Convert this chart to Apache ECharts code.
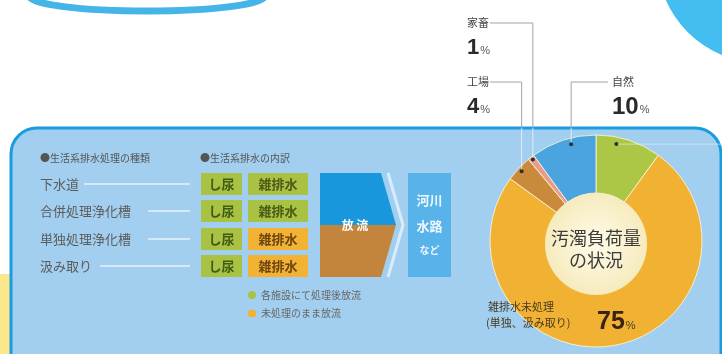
<!DOCTYPE html>
<html><head><meta charset="utf-8">
<script src="https://cdn.jsdelivr.net/npm/echarts@6/dist/echarts.min.js"></script>
<style>html,body{margin:0;padding:0;background:#fff}#c{width:722px;height:354px}</style>
</head><body><div id="c"></div>
<script>
// ---- data ----
const sliceNames = ['', '雑排水未処理', '工場', '家畜', '自然'];
const sliceValues = [10, 75, 4, 1, 10];
const sliceColors = ['#acc645', '#f1b233', '#c98a3c', '#e79d8c', '#4aa4e0'];
const rowLabels = ['下水道', '合併処理浄化槽', '単独処理浄化槽', '汲み取り'];
const rowTreated = [true, true, false, false];
const boxLabels = ['し尿', '雑排水'];
const legendLabels = ['各施設にて処理後放流', '未処理のまま放流'];
const headingLeft = '●生活系排水処理の種類';
const headingMid = '●生活系排水の内訳';
const centerLabel = ['汚濁負荷量', 'の状況'];

const FONT = '"Noto Sans CJK JP", "Noto Sans", sans-serif';
const chart = echarts.init(document.getElementById('c'), null, {renderer: 'canvas'});
const cx = 596, cy = 241;
const total = sliceValues.reduce((a, b) => a + b, 0);
let acc = 0;
const angles = sliceValues.map(v => { const s = acc; acc += v; return [s / total * 360, acc / total * 360]; });
function pt(deg, r) { const a = deg * Math.PI / 180; return [cx + r * Math.sin(a), cy - r * Math.cos(a)]; }
function dotAt(i, frac, r) { const [s, e] = angles[i]; return pt(s + (e - s) * frac, r); }

const G = [];
// background decorations
G.push({type: 'ellipse', z: 0, shape: {cx: 147, cy: -4, rx: 118, ry: 15}, style: {fill: 'none', stroke: '#45b5e8', lineWidth: 7}});
G.push({type: 'circle', z: 0, shape: {cx: 762, cy: -42, r: 105}, style: {fill: '#44bdf0'}});
G.push({type: 'rect', z: 0, shape: {x: 0, y: 274, width: 16, height: 90}, style: {fill: '#fde78c'}});
G.push({type: 'rect', z: 1, shape: {x: 11, y: 128, width: 710, height: 270, r: 26}, style: {fill: '#a2cfef', stroke: '#1b9ce0', lineWidth: 3}});

// headings
G.push({type: 'text', z: 10, x: 40, y: 158, style: {text: headingLeft, font: '10px ' + FONT, fill: '#555', textVerticalAlign: 'middle'}});
G.push({type: 'text', z: 10, x: 200, y: 158, style: {text: headingMid, font: '10px ' + FONT, fill: '#555', textVerticalAlign: 'middle'}});

// rows
const rowY = [184, 211, 239, 266];
const lineStart = [84, 148, 148, 100];
rowLabels.forEach((t, i) => {
  const y = rowY[i];
  G.push({type: 'text', z: 10, x: 40, y: y, style: {text: t, font: '13px ' + FONT, fill: '#5c5c5c', textVerticalAlign: 'middle'}});
  G.push({type: 'line', z: 5, shape: {x1: lineStart[i], y1: y, x2: 190, y2: y}, style: {stroke: 'rgba(255,255,255,0.55)', lineWidth: 2}});
  G.push({type: 'rect', z: 5, shape: {x: 201, y: y - 11, width: 41, height: 22}, style: {fill: '#a9c243'}});
  G.push({type: 'text', z: 10, x: 221.5, y: y, style: {text: boxLabels[0], font: 'bold 13px ' + FONT, fill: '#3e5c14', textAlign: 'center', textVerticalAlign: 'middle'}});
  G.push({type: 'rect', z: 5, shape: {x: 248, y: y - 11, width: 60, height: 22}, style: {fill: rowTreated[i] ? '#a9c243' : '#f2b234'}});
  G.push({type: 'text', z: 10, x: 278, y: y, style: {text: boxLabels[1], font: 'bold 13px ' + FONT, fill: rowTreated[i] ? '#4b5a16' : '#6b4612', textAlign: 'center', textVerticalAlign: 'middle'}});
});

// discharge arrow
G.push({type: 'polygon', z: 5, shape: {points: [[320, 173], [381, 173], [396, 225], [320, 225]]}, style: {fill: '#1997dc'}});
G.push({type: 'polygon', z: 5, shape: {points: [[320, 225], [396, 225], [381, 277], [320, 277]]}, style: {fill: '#c3843b'}});
G.push({type: 'polyline', z: 6, shape: {points: [[388, 173], [403, 225], [388, 277]]}, style: {stroke: 'rgba(235,245,255,0.75)', lineWidth: 3, fill: 'none'}});
G.push({type: 'text', z: 10, x: 355, y: 225, style: {text: '放 流', font: 'bold 12px ' + FONT, fill: '#fff', textAlign: 'center', textVerticalAlign: 'middle'}});
G.push({type: 'rect', z: 5, shape: {x: 408, y: 173, width: 43, height: 104}, style: {fill: '#58b3ea'}});
[['河川', 200], ['水路', 226], ['など', 250]].forEach(([t, y], k) => {
  G.push({type: 'text', z: 10, x: 429.5, y: y, style: {text: t, font: (k < 2 ? 'bold 13px ' : 'bold 10px ') + FONT, fill: '#eef7ff', textAlign: 'center', textVerticalAlign: 'middle'}});
});

// legend
G.push({type: 'circle', z: 6, shape: {cx: 252, cy: 295, r: 4}, style: {fill: '#a9c243'}});
G.push({type: 'rect', z: 6, shape: {x: 248, y: 310, width: 8, height: 7, r: 2}, style: {fill: '#f2b234'}});
G.push({type: 'text', z: 10, x: 261, y: 295, style: {text: legendLabels[0], font: '10px ' + FONT, fill: '#666', textVerticalAlign: 'middle'}});
G.push({type: 'text', z: 10, x: 261, y: 313, style: {text: legendLabels[1], font: '10px ' + FONT, fill: '#666', textVerticalAlign: 'middle'}});

// center circle and text
G.push({type: 'circle', z: 10, shape: {cx: 596, cy: 244, r: 51}, style: {fill: new echarts.graphic.RadialGradient(0.5, 0.5, 0.5, [{offset: 0, color: '#fffbe8'}, {offset: 1, color: '#f6ebbd'}])}});
G.push({type: 'text', z: 11, x: 596, y: 238, style: {text: centerLabel[0], font: '18px ' + FONT, fill: '#3c3c3c', textAlign: 'center', textVerticalAlign: 'middle'}});
G.push({type: 'text', z: 11, x: 596, y: 260, style: {text: centerLabel[1], font: '18px ' + FONT, fill: '#3c3c3c', textAlign: 'center', textVerticalAlign: 'middle'}});

// leader lines and labels
const panelTop = 128;
function leader(dot, y, xEnd) {
  G.push({type: 'polyline', z: 9, shape: {points: [[dot[0], panelTop], [dot[0], y], [xEnd, y]]}, style: {stroke: '#a3a3a3', lineWidth: 1, fill: 'none'}});
  G.push({type: 'line', z: 9, shape: {x1: dot[0], y1: panelTop, x2: dot[0], y2: dot[1]}, style: {stroke: 'rgba(235,242,250,0.85)', lineWidth: 1}});
  G.push({type: 'circle', z: 11, shape: {cx: dot[0], cy: dot[1], r: 2}, style: {fill: '#2e2e2e'}});
}
const dPink = dotAt(3, 0.5, 103), dBrown = dotAt(2, 0.5, 102), dBlue = dotAt(4, 0.6, 100), dGreen = dotAt(0, 0.33, 99);
leader(dPink, 23, 490);
leader(dBrown, 82, 490);
leader(dBlue, 82, 608);
G.push({type: 'line', z: 9, shape: {x1: dGreen[0], y1: dGreen[1], x2: 722, y2: dGreen[1]}, style: {stroke: 'rgba(235,242,250,0.6)', lineWidth: 1}});
G.push({type: 'circle', z: 11, shape: {cx: dGreen[0], cy: dGreen[1], r: 2}, style: {fill: '#2e2e2e'}});

function pctLabel(x, yName, yNum, name, val, big) {
  G.push({type: 'text', z: 10, x: x, y: yName, style: {text: name, font: '11px ' + FONT, fill: '#444', textVerticalAlign: 'middle'}});
  G.push({type: 'text', z: 10, x: x, y: yNum, style: {text: '{n|' + val + '}{p|%}', textVerticalAlign: 'middle',
    rich: {n: {font: 'bold ' + big + 'px "Liberation Sans", Arial, sans-serif', fill: '#2a2a2a'}, p: {font: '11px "Liberation Sans", Arial, sans-serif', fill: '#555', padding: [6, 0, 0, 1]}}}});
}
pctLabel(467, 23, 48, sliceNames[3], sliceValues[3], 22);
pctLabel(467, 82, 107, sliceNames[2], sliceValues[2], 22);
pctLabel(612, 82, 107, sliceNames[4], sliceValues[4], 24);

// 75% label
G.push({type: 'text', z: 12, x: 488, y: 307, style: {text: sliceNames[1], font: '11px ' + FONT, fill: '#4a3a20', textVerticalAlign: 'middle'}});
G.push({type: 'text', z: 12, x: 486, y: 323, style: {text: '(単独、汲み取り)', font: '11px ' + FONT, fill: '#4a3a20', textVerticalAlign: 'middle'}});
G.push({type: 'text', z: 12, x: 597, y: 322, style: {text: '{n|' + sliceValues[1] + '}{p|%}', textVerticalAlign: 'middle',
  rich: {n: {font: 'bold 25px "Liberation Sans", Arial, sans-serif', fill: '#3a2312'}, p: {font: '11px "Liberation Sans", Arial, sans-serif', fill: '#4a3a20', padding: [7, 0, 0, 1]}}}});

chart.setOption({
  animation: false,
  graphic: {elements: G},
  series: [{
    type: 'pie', z: 3, center: [cx, cy], radius: [48, 106], startAngle: 90, clockwise: true, silent: true,
    label: {show: false}, labelLine: {show: false},
    itemStyle: {borderColor: 'rgba(255,246,215,0.85)', borderWidth: 1},
    data: sliceNames.map((n, i) => ({name: n || ('slice' + i), value: sliceValues[i], itemStyle: {color: sliceColors[i]}}))
  }]
});
</script></body></html>
